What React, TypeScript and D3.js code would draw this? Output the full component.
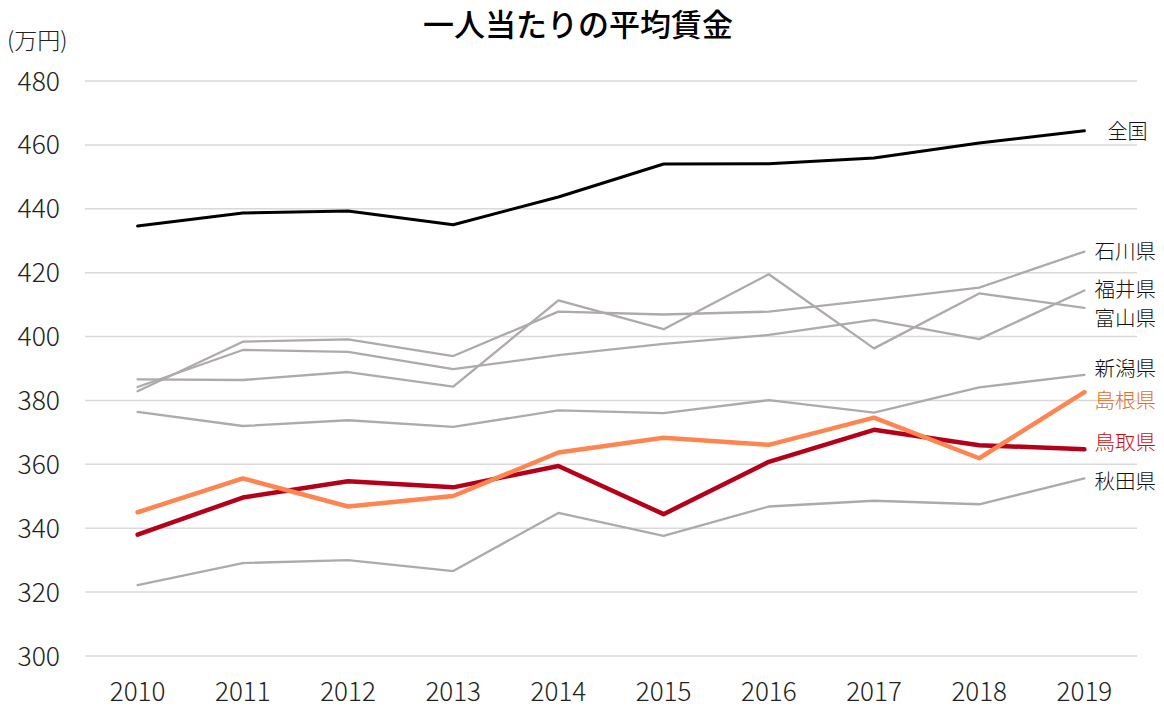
import React from "react";
import * as d3 from "d3";

const years = ["2010", "2011", "2012", "2013", "2014", "2015", "2016", "2017", "2018", "2019"];
const yTicks = [300, 320, 340, 360, 380, 400, 420, 440, 460, 480];

const national = [434.6, 438.7, 439.3, 435.0, 443.7, 454.0, 454.1, 455.9, 460.6, 464.4];
const ishikawa = [382.9, 398.4, 399.1, 393.9, 407.8, 406.9, 407.8, 411.5, 415.3, 426.6];
const fukui = [384.2, 395.8, 395.2, 389.8, 394.2, 397.7, 400.5, 405.2, 399.2, 414.4];
const toyama = [386.6, 386.4, 388.9, 384.3, 411.3, 402.3, 419.5, 396.3, 413.5, 409.0];
const niigata = [376.4, 372.0, 373.8, 371.7, 376.9, 376.0, 380.1, 376.2, 384.1, 388.0];
const shimane = [345.0, 355.6, 346.8, 350.1, 363.7, 368.3, 366.1, 374.6, 361.9, 382.6];
const tottori = [338.0, 349.6, 354.7, 352.8, 359.5, 344.4, 360.8, 370.8, 366.0, 364.7];
const akita = [322.2, 329.1, 330.0, 326.6, 344.8, 337.6, 346.8, 348.6, 347.5, 355.6];

type Series = {
  name: string;
  values: number[];
  color: string;
  labelColor: string;
  width: number;
  labelDy: number;
  labelDx: number;
  fontSize: number;
};

// drawn back to front
const series: Series[] = [
  { name: "秋田県", values: akita, color: "#aeaaaa", labelColor: "#111", width: 2.3, labelDy: 3, labelDx: 10, fontSize: 20.5 },
  { name: "新潟県", values: niigata, color: "#aeaaaa", labelColor: "#111", width: 2.3, labelDy: -6, labelDx: 10, fontSize: 20.5 },
  { name: "富山県", values: toyama, color: "#aeaaaa", labelColor: "#111", width: 2.3, labelDy: 11, labelDx: 10, fontSize: 20.5 },
  { name: "福井県", values: fukui, color: "#aeaaaa", labelColor: "#111", width: 2.3, labelDy: -1, labelDx: 10, fontSize: 20.5 },
  { name: "石川県", values: ishikawa, color: "#aeaaaa", labelColor: "#111", width: 2.3, labelDy: 0, labelDx: 10, fontSize: 20.5 },
  { name: "全国", values: national, color: "#000000", labelColor: "#111", width: 3, labelDy: 1, labelDx: 23, fontSize: 20 },
  { name: "鳥取県", values: tottori, color: "#b5001a", labelColor: "#cc1010", width: 4.5, labelDy: -7, labelDx: 10, fontSize: 20.5 },
  { name: "島根県", values: shimane, color: "#ff8550", labelColor: "#e0702e", width: 4.5, labelDy: 8, labelDx: 10, fontSize: 20.5 },
];

const W = 1164;
const H = 709;
const margin = { top: 81, right: 27, bottom: 53, left: 85 };
const font = "'Noto Sans CJK JP', 'Noto Sans', sans-serif";

export default function App() {
  const x = d3
    .scalePoint<string>()
    .domain(years)
    .range([margin.left, W - margin.right])
    .padding(0.5);
  const y = d3
    .scaleLinear()
    .domain([300, 480])
    .range([H - margin.bottom, margin.top]);

  const line = d3
    .line<number>()
    .x((_, i) => x(years[i]) as number)
    .y((d) => y(d));

  return (
    <svg
      width={W}
      height={H}
      style={{ position: "absolute", left: 0, top: 0, background: "#fff" }}
      fontFamily={font}
    >
      <text x={578} y={36} textAnchor="middle" fontSize={31} fontWeight={500} fill="#000">
        一人当たりの平均賃金
      </text>
      <text x={7} y={49} fontSize={23} fontWeight={300} fill="#222">
        (万円)
      </text>

      {yTicks.map((t) => (
        <g key={t}>
          <line
            x1={margin.left}
            x2={W - margin.right}
            y1={y(t)}
            y2={y(t)}
            stroke="#d9d9d9"
            strokeWidth={1.5}
          />
          <text x={60} y={y(t)} dy="0.36em" textAnchor="end" fontSize={26.5} fontWeight={300} fill="#222">
            {t}
          </text>
        </g>
      ))}

      {years.map((yr) => (
        <text key={yr} x={x(yr)} y={701} textAnchor="middle" fontSize={26} fontWeight={300} fill="#222">
          {yr}
        </text>
      ))}

      {series.map((s) => (
        <path
          key={s.name}
          d={line(s.values) || ""}
          fill="none"
          stroke={s.color}
          strokeWidth={s.width}
          strokeLinejoin="round"
          strokeLinecap="round"
        />
      ))}

      {series.map((s) => (
        <text
          key={s.name + "-label"}
          x={(x(years[years.length - 1]) as number) + s.labelDx}
          y={y(s.values[s.values.length - 1]) + s.labelDy}
          dy="0.36em"
          fontSize={s.fontSize}
          fontWeight={300}
          fill={s.labelColor}
        >
          {s.name}
        </text>
      ))}
    </svg>
  );
}
